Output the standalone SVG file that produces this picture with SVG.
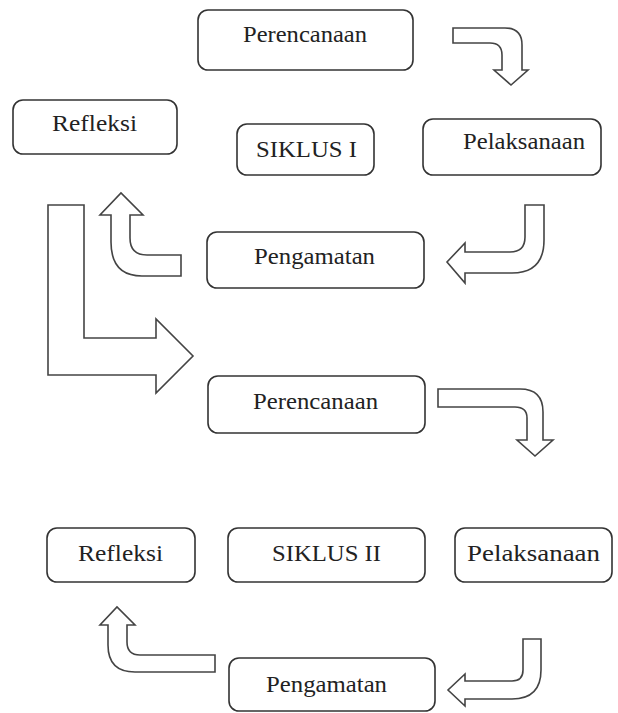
<svg xmlns="http://www.w3.org/2000/svg" width="618" height="713" viewBox="0 0 618 713">
<style>
.box{fill:#fff;stroke:#333;stroke-width:1.6}
.arr{fill:#fff;stroke:#444;stroke-width:1.6;stroke-linejoin:miter}
.t{font-family:"Liberation Serif","Times New Roman",serif;font-size:23px;fill:#222}
</style>
<rect width="618" height="713" fill="#fff"/>
<g id="connectors">
<path class="arr" d="M453,28 L505,28 Q522,28 522,45 L522,70 L528,70 L511,85 L494,70 L502,70 L502,55 Q502,43 490,43 L453,43 Z"/>
<path class="arr" d="M525,205 L544,205 L544,240 Q544,273 512,273 L465,273 L465,283 L447,262 L465,243 L465,252 L510,252 Q525,252 525,237 Z"/>
<path class="arr" d="M181,255 L147,255 Q130,255 130,238 L130,215 L143,215 L121,193 L100,215 L111,215 L111,242 Q111,276 142,276 L181,276 Z"/>
<path class="arr" d="M48,205 L84,205 L84,338 L156,338 L156,319 L193,356 L156,393 L156,375 L48,375 Z"/>
<path class="arr" d="M438,389 L520,389 Q543,389 543,412 L543,440 L553,440 L535,456 L517,440 L527,440 L527,418 Q527,407 515,407 L438,407 Z"/>
<path class="arr" d="M215,655 L140,655 Q127,655 127,642 L127,625 L135,625 L117,607 L100,625 L108,625 L108,645 Q108,672 135,672 L215,672 Z"/>
<path class="arr" d="M523,639 L541,639 L541,670 Q541,699 512,699 L465,699 L465,706 L448,690 L465,674 L465,681 L512,681 Q523,681 523,670 Z"/>
</g>
<g id="perencanaan1"><rect class="box" x="198" y="10" width="215" height="60" rx="10"/><text class="t" x="243" y="42" textLength="124" lengthAdjust="spacingAndGlyphs">Perencanaan</text></g>
<g id="refleksi1"><rect class="box" x="13" y="100" width="164" height="54" rx="10"/><text class="t" x="52" y="131" textLength="85" lengthAdjust="spacingAndGlyphs">Refleksi</text></g>
<g id="siklus1"><rect class="box" x="237" y="124" width="137" height="51" rx="10"/><text class="t" x="256" y="157" textLength="101" lengthAdjust="spacingAndGlyphs">SIKLUS I</text></g>
<g id="pelaksanaan1"><rect class="box" x="423" y="119" width="178" height="56" rx="10"/><text class="t" x="463" y="149" textLength="122" lengthAdjust="spacingAndGlyphs">Pelaksanaan</text></g>
<g id="pengamatan1"><rect class="box" x="207" y="232" width="217" height="56" rx="10"/><text class="t" x="254" y="264" textLength="121" lengthAdjust="spacingAndGlyphs">Pengamatan</text></g>
<g id="perencanaan2"><rect class="box" x="208" y="376" width="217" height="57" rx="10"/><text class="t" x="253" y="409" textLength="125" lengthAdjust="spacingAndGlyphs">Perencanaan</text></g>
<g id="refleksi2"><rect class="box" x="47" y="528" width="148" height="54" rx="10"/><text class="t" x="78" y="561" textLength="85" lengthAdjust="spacingAndGlyphs">Refleksi</text></g>
<g id="siklus2"><rect class="box" x="228" y="528" width="197" height="54" rx="10"/><text class="t" x="272" y="561" textLength="109" lengthAdjust="spacingAndGlyphs">SIKLUS II</text></g>
<g id="pelaksanaan2"><rect class="box" x="455" y="528" width="157" height="54" rx="10"/><text class="t" x="467" y="561" textLength="133" lengthAdjust="spacingAndGlyphs">Pelaksanaan</text></g>
<g id="pengamatan2"><rect class="box" x="229" y="658" width="206" height="53" rx="10"/><text class="t" x="266" y="692" textLength="121" lengthAdjust="spacingAndGlyphs">Pengamatan</text></g>
</svg>
